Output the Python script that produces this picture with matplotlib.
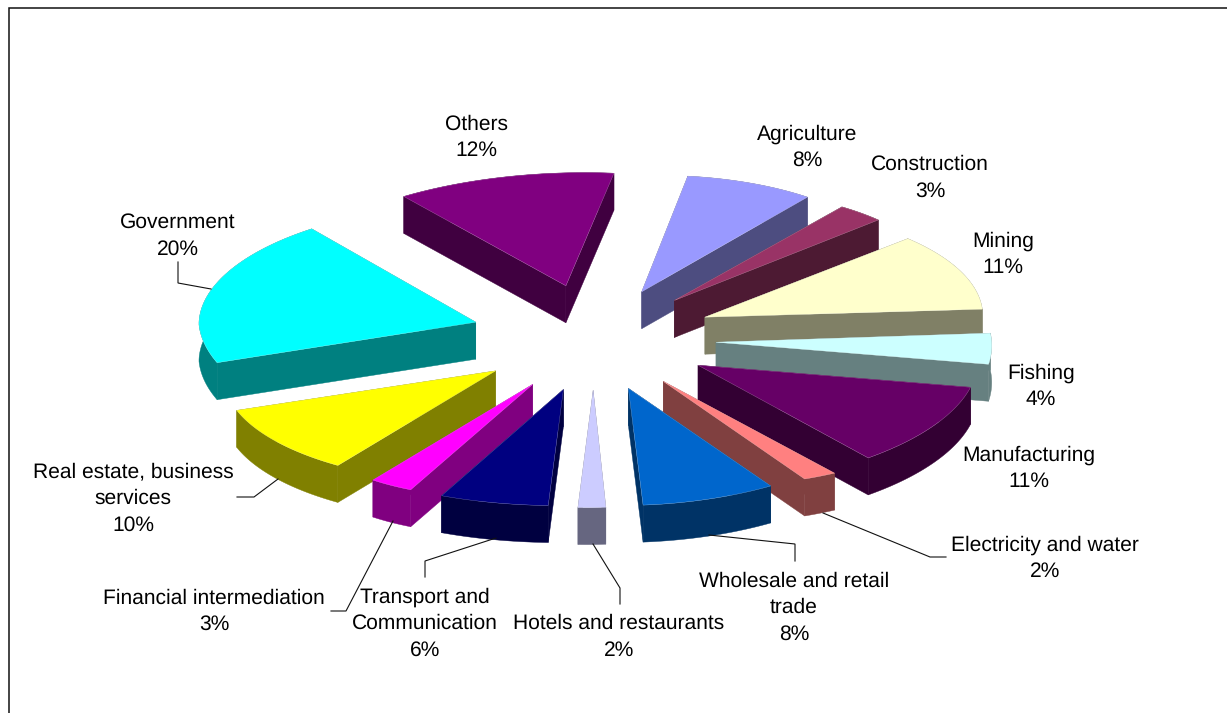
import numpy as np
import matplotlib
matplotlib.use("Agg")
import matplotlib.pyplot as plt
from matplotlib.colors import to_rgb
from matplotlib.patches import Polygon

plt.rcParams["text.hinting"] = "no_hinting"
plt.rcParams["text.hinting_factor"] = 1

categories = ["Agriculture", "Construction", "Mining", "Fishing", "Manufacturing",
              "Electricity and water", "Wholesale and retail\ntrade", "Hotels and restaurants",
              "Transport and\nCommunication", "Financial intermediation",
              "Real estate, business\nservices", "Government", "Others"]
shares = [8, 3, 11, 4, 11, 2, 8, 2, 6, 3, 10, 20, 12]
top_colors = ["#9999FF", "#993366", "#FFFFCC", "#CCFFFF", "#660066", "#FF8080", "#0066CC",
              "#CCCCFF", "#000080", "#FF00FF", "#FFFF00", "#00FFFF", "#800080"]
explode = [1.0, 1.0, 1.0, 1.0, 1.0, 1.0, 1.0, 1.0, 1.0, 1.0, 1.0, 1.05, 1.0]
apex_dx = [0, -2, -1, 2, 2, 1, 0, 2, 2, 2, 0, 0, -2]
apex_dy = [1, 0, -2, -1, -1, 0, 0, 0, 1, 2, 3, 2, -2]

# Label anchors (centre of the text block) and elbow leaders, in pixels
label_pos = [(807, 147), (930, 178), (1003, 254), (1041, 386), (1029, 468),
             (1045, 558), (794, 607.5), (619, 637), (425, 623.5), (214, 611.5),
             (133, 498.5), (178, 236), (476, 137.5)]
leaders = [
    [(946, 557), (930, 557), (823, 513)],
    [(795, 561), (795, 544), (709, 535)],
    [(620, 604), (620, 588), (593, 544)],
    [(425, 577), (425, 561), (496, 538)],
    [(331, 611), (346, 611), (393, 521)],
    [(237, 497), (254, 497), (278, 479)],
    [(178, 262), (178, 283), (211, 289)],
]

# Projection of the tilted pie onto the page
CENTER = (594.5, 338.5)
RX, RY, TILT = 278.0, 116.0, 6.0
EXPLODE_X, EXPLODE_Y = 120.0, 52.0
DEPTH = 37.0
START_DEG = 8.8
# Lens correction of the rim at each slice boundary, going clockwise from the first slice;
# one extra node keeps the long Government arc round on its left side
RIM_DX = [3.5, -4, -6, -1.5, 3, 1, 0, 5, 12, 5.5, 12, 8, 1, -7, 3.5]
RIM_DY = [1, 2, 1, 0, 2, 4, 1, 1, 1, 1, 2, 4, 2, 1, 1]
EXTRA_NODE_DEG = 272.0


def wedge_outline(start, stop, factor, nodes, nudge):
    mid = np.radians((start + stop) / 2)
    ax_x = CENTER[0] + factor * EXPLODE_X * np.sin(mid)
    ax_y = CENTER[1] - factor * EXPLODE_Y * np.cos(mid)
    deg = np.linspace(start, stop, 80)
    theta = np.radians(deg)
    xs = ax_x + RX * np.sin(theta) + np.interp(deg, nodes, RIM_DX)
    ys = ax_y - RY * np.cos(theta) - TILT * np.sin(theta) + np.interp(deg, nodes, RIM_DY)
    return np.column_stack([np.r_[ax_x + nudge[0], xs], np.r_[ax_y + nudge[1], ys]])


fig = plt.figure(figsize=(12.27, 7.13), dpi=100)
ax = fig.add_axes([0, 0, 1, 1])
ax.set_xlim(0, 1227)
ax.set_ylim(713, 0)
ax.axis("off")

spans = START_DEG + 3.6 * np.r_[0, np.cumsum(shares)]
nodes = np.sort(np.r_[spans, EXTRA_NODE_DEG])
outlines = [wedge_outline(spans[i], spans[i + 1], explode[i], nodes, (apex_dx[i], apex_dy[i]))
            for i in range(len(shares))]

# Paint from the back of the pie to the front
drop = np.array([0, DEPTH])
for i in np.argsort([o[0, 1] for o in outlines]):
    outline = outlines[i]
    base = np.array(to_rgb(top_colors[i]))
    wall = tuple(base * 0.5)
    rim_line = tuple(base * 0.55 + 0.45)
    apex, rim = outline[0], outline[1:]
    walls = [
        [apex, rim[0], rim[0] + drop, apex + drop],
        [apex, rim[-1], rim[-1] + drop, apex + drop],
        np.vstack([rim, rim[::-1] + drop]),
    ]
    for shape in walls:
        ax.add_patch(Polygon(shape, closed=True, facecolor=wall, edgecolor=wall, linewidth=0.3))
    ax.add_patch(Polygon(outline, closed=True, facecolor=top_colors[i],
                         edgecolor=rim_line, linewidth=0.25))

for path in leaders:
    xs, ys = zip(*path)
    ax.plot(xs, ys, color="#111111", linewidth=0.8, solid_joinstyle="miter")

for name, share, (x, y) in zip(categories, shares, label_pos):
    ax.text(x, y, f"{name}\n{share}%", ha="center", va="center", fontsize=15.35,
            family="Liberation Sans", linespacing=1.45, color="black")

# Chart area border: only the left and top runs fall inside the canvas
ax.plot([8.5, 8.5, 1227], [713, 7.5, 7.5], color="#111111", linewidth=1.1,
        solid_joinstyle="miter")

fig.savefig("out.png", dpi=100, facecolor="white")
